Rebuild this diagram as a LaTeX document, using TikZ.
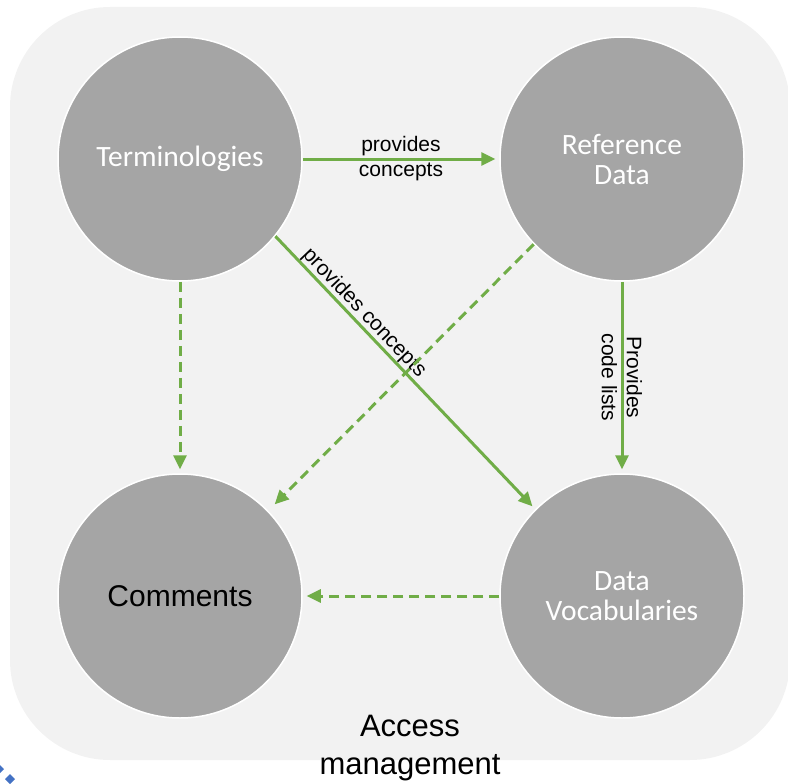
\documentclass[tikz,border=0pt]{standalone}
\usepackage{fontspec}
\setmainfont{Liberation Sans}
\newfontfamily\calibri{Carlito}
\usetikzlibrary{
    arrows.meta,            % Triangle arrow tips.
    positioning             % Relative positioning of nodes.
}
\definecolor{leaf}{HTML}{70AD47}
\definecolor{stone}{HTML}{A5A5A5}
\definecolor{paper}{HTML}{F2F2F2}
\definecolor{office}{HTML}{4472C4}

\begin{document}
\begin{tikzpicture}[x=1pt, y=-1pt,
        >={Triangle[length=14pt,width=13pt]},
        bubble/.style={circle, fill=stone, draw=white, line width=1.5pt,
            minimum size=244pt, inner sep=0pt, align=center, text=white,
            font=\calibri\fontsize{29.5}{30}\selectfont},
        flow/.style={->, leaf, line width=3pt, shorten >=4pt},
        weak/.style={flow, dash pattern=on 10pt off 6pt},
        tag/.style={text=black, font=\fontsize{21}{25}\selectfont,
            align=center, inner sep=0pt}]
                \useasboundingbox (0,0) rectangle (788,784);
                \fill[paper, rounded corners=100pt] (10,7) rectangle (790,760);
                \fill[office] (0,765) -- (4,769) -- (0,773) -- (-4,769) -- cycle;
                \fill[office] (10,774) -- (15,779) -- (10,784) -- (5,779) -- cycle;
                \node[bubble] (T) at (180,159) {Terminologies};
                \node[bubble] (R) at (622,159) {Reference\\Data};
                \node[bubble, text=black,
                    font=\fontsize{30}{36}\selectfont] (C) at (180,596) {Comments};
                \node[bubble] (V) at (622,596) {Data\\Vocabularies};
                \draw[flow] (T) to
                    node [tag, midway] {provides\\concepts} (R);
                \draw[flow] (R) to
                    node [tag, midway, rotate=-90] {Provides\\code lists} (V);
                \draw[flow] (T.-39) to
                    node [tag, sloped, above, pos=0.31] {provides concepts} (V.135);
                \draw[weak] (T) to (C);
                \draw[weak, shorten >=9pt] (R.224) to (C.44);
                \draw[weak] (V) to (C);
                \node[anchor=north, inner sep=0pt, align=center,
                    font=\fontsize{31}{38}\selectfont] (A) at (410,715) {Access\\management};
            \end{tikzpicture}
\end{document}
